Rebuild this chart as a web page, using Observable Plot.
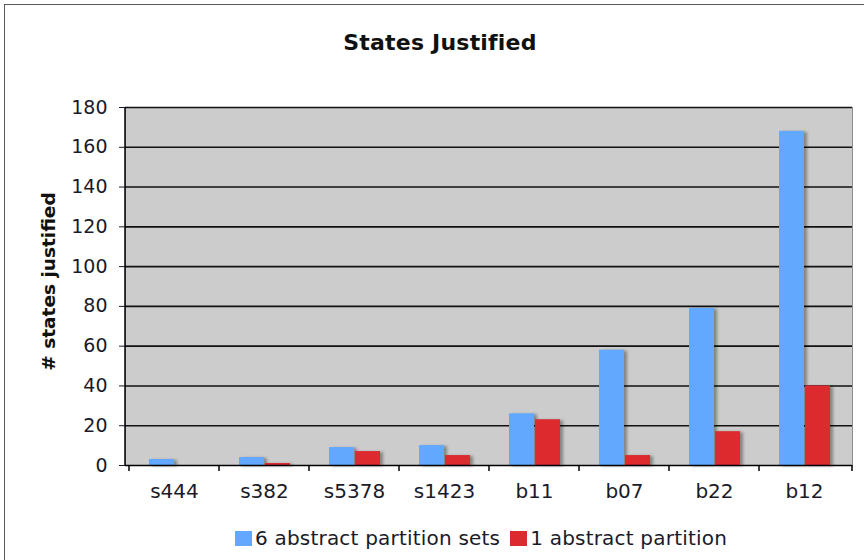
<!DOCTYPE html>
<html>
<head>
<meta charset="utf-8">
<script src="https://cdn.jsdelivr.net/npm/d3@7"></script>
<script src="https://cdn.jsdelivr.net/npm/@observablehq/plot@0.6"></script>
<style>
  html, body { margin: 0; padding: 0; background: #fff; overflow: hidden; }
  #chart { position: relative; width: 864px; height: 560px; overflow: hidden; font-family: "DejaVu Sans", Verdana, sans-serif; }
  #border { position: absolute; left: 4px; top: 4px; width: 890px; height: 600px; border: 1.5px solid #5a5a5a; box-sizing: border-box; }
  #title { position: absolute; left: 0; top: 32px; width: 880px; text-align: center; font-size: 22px; line-height: 22px; font-weight: bold; color: #111; letter-spacing: 0.2px; }
  #plot { position: absolute; left: 0; top: 0; }
  #legend { position: absolute; left: 235px; top: 527px; display: flex; align-items: center; font-size: 20px; line-height: 22px; color: #1a1a2a; white-space: nowrap; letter-spacing: 0.2px; }
  #legend .sw { width: 17px; height: 15px; margin-right: 3px; }
  #legend .item { display: flex; align-items: center; margin-right: 10px; }
  svg g[aria-label="bar"] { filter: drop-shadow(3px 1px 1.5px rgba(0,0,0,0.35)); }
</style>
</head>
<body>
<div id="chart">
  <div id="border"></div>
  <div id="title">States Justified</div>
  <div id="plot"></div>
  <div id="legend"></div>
</div>
<script>
// Benchmarks along the x axis
const categories = ["s444", "s382", "s5378", "s1423", "b11", "b07", "b22", "b12"];
// Series names and colours
const seriesNames = ["6 abstract partition sets", "1 abstract partition"];
const seriesColors = ["#62a8fe", "#dc2a2e"];
// Number of states justified per benchmark
const sixPartitionSets = [3, 4, 9, 10, 26, 58, 79, 168];
const onePartition = [0, 1, 7, 5, 23, 5, 17, 40];
// Y axis tick values
const yTicks = [0, 20, 40, 60, 80, 100, 120, 140, 160, 180];

const rowsSix = categories.map((c, i) => ({category: c, value: sixPartitionSets[i], series: seriesNames[0]}));
const rowsOne = categories.map((c, i) => ({category: c, value: onePartition[i], series: seriesNames[1]}));

// Axis line on the left plus Excel-style ticks at category boundaries
function boundaryTicks(index, scales, values, dims) {
  const g = d3.create("svg:g").attr("stroke", "#000").attr("stroke-width", 1.5);
  const x0 = dims.marginLeft;
  const y0 = scales.y(0);
  const yTop = scales.y(180);
  g.append("line").attr("x1", x0).attr("x2", x0).attr("y1", yTop).attr("y2", y0 + 0.75);
  const xs = categories.map(c => scales.x(c)).concat([dims.width - dims.marginRight]);
  for (const x of xs) {
    g.append("line").attr("x1", x).attr("x2", x).attr("y1", y0).attr("y2", y0 + 6);
  }
  return g.node();
}

const chart = Plot.plot({
  width: 864,
  height: 520,
  marginLeft: 125,
  marginRight: 12,
  marginTop: 107,
  marginBottom: 55,
  style: {fontFamily: "DejaVu Sans, Verdana, sans-serif", fontSize: "19px", color: "#1a1a2a", background: "transparent", overflow: "visible"},
  x: {domain: categories, padding: 0},
  y: {domain: [0, 180]},
  marks: [
    Plot.frame({fill: "#cccccc", stroke: "#8c8c8c"}),
    Plot.gridY(yTicks.filter(d => d > 0), {stroke: "#111", strokeOpacity: 1, strokeWidth: 1.6}),
    Plot.barY(rowsSix, {x: "category", y: "value", fill: seriesColors[0], insetLeft: 20, insetRight: 45}),
    Plot.barY(rowsOne, {x: "category", y: "value", fill: seriesColors[1], insetLeft: 46, insetRight: 19}),
    Plot.ruleY([0], {stroke: "#000", strokeWidth: 1.6}),
    boundaryTicks,
    Plot.axisY({ticks: yTicks, tickSize: 6, tickPadding: 12, label: null, fontSize: 19}),
    Plot.axisX({tickSize: 0, tickPadding: 18, label: null, fontSize: 20}),
    Plot.text(["# states justified"], {
      frameAnchor: "left", dx: -76, dy: -5, rotate: -90, textAnchor: "middle",
      fontWeight: "bold", fontSize: 18.5, fill: "#111"
    })
  ]
});
document.getElementById("plot").appendChild(chart);

// Legend below the chart
const legend = d3.select("#legend");
seriesNames.forEach((name, i) => {
  const item = legend.append("div").attr("class", "item");
  item.append("div").attr("class", "sw").style("background", seriesColors[i]);
  item.append("span").text(name);
});
</script>
</body>
</html>
